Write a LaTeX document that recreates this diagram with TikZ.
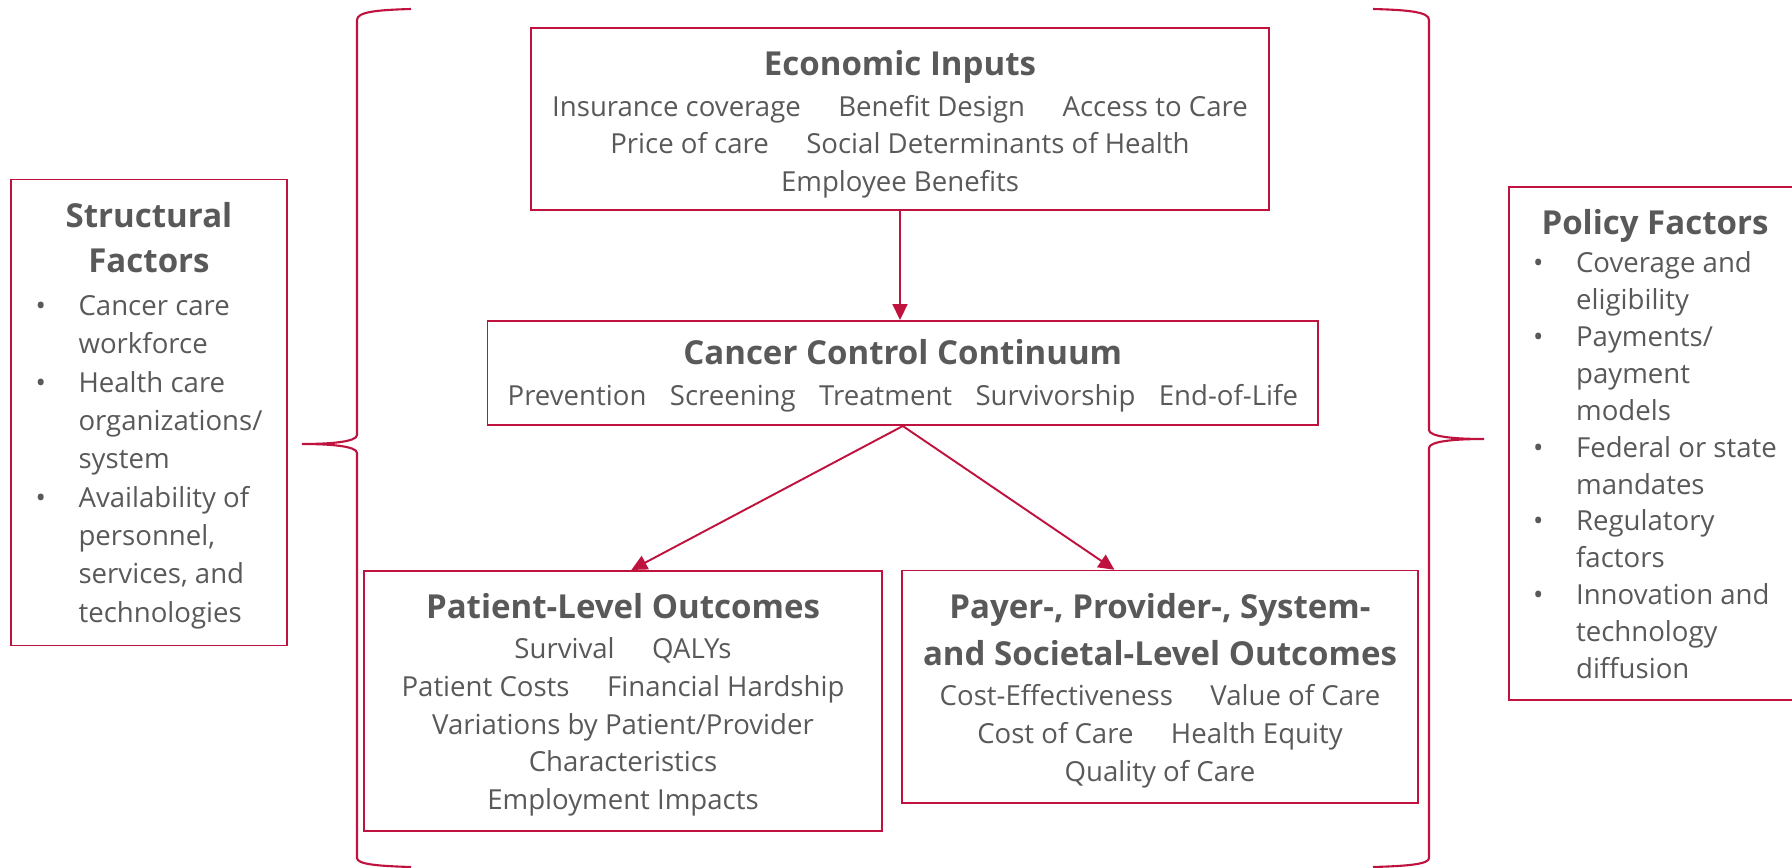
\documentclass[tikz,border=0pt]{standalone}
\usepackage{fontspec}
\setmainfont{Open Sans}
\usetikzlibrary{arrows.meta,calc}
\definecolor{crimson}{RGB}{192,18,62}
\definecolor{txtgray}{RGB}{89,89,89}
\tikzset{>={Triangle[length=9pt,width=8.5pt]}}
\tikzset{
    box/.style={draw=crimson,line width=0.9pt,text=txtgray,align=center,inner sep=0pt,
        font=\fontsize{15.7}{21.5}\selectfont},
    link/.style={->,crimson,line width=1.1pt},
    brace/.style={crimson,line width=1.2pt}
}
\newcommand\boxtitle[2][0pt]{{\fontsize{18.8}{26}\selectfont\bfseries\rule{0pt}{#1}#2}}
\newcommand\itemgap{\hspace{1.36em}}
\newcommand\curlybrace[4]{
    \draw[brace] (#2,9) .. controls (0.35*#2+0.65*#1,10) and (#1,12) .. (#1,20)
        -- (#1,#4-9) .. controls (#1,#4-2) and (0.5*#1+0.5*#3,#4) .. (#3,#4)
        .. controls (0.5*#1+0.5*#3,#4) and (#1,#4+2) .. (#1,#4+9)
        -- (#1,858) .. controls (#1,864) and (0.35*#2+0.65*#1,866) .. (#2,867);
}

\begin{document}
\begin{tikzpicture}[x=0.02cm,y=-0.02cm]
    \useasboundingbox (0,0) rectangle (1792,868);
    \clip (0,0) rectangle (1792,868);

    \node[box,minimum width=14.76cm,minimum height=3.65cm] (econ) at (900,119)
        {\boxtitle[20.5pt]{Economic Inputs}\\[1.6pt]
         Insurance coverage\itemgap Benefit Design\itemgap Access to Care\\
         Price of care\itemgap Social Determinants of Health\\
         Employee Benefits};
    \node[box,minimum width=16.61cm,minimum height=2.09cm] (ccc) at (902.8,373)
        {\boxtitle[17.5pt]{Cancer Control Continuum}\\[1.5pt]
         Prevention\hspace{0.85em}Screening\hspace{0.85em}Treatment\hspace{0.85em}Survivorship\hspace{0.85em}End-of-Life};
    \node[box,minimum width=10.36cm,minimum height=5.21cm] (patient) at (623,701)
        {\boxtitle[18.7pt]{Patient-Level Outcomes}\\[1.2pt]
         Survival\itemgap QALYs\\
         Patient Costs\itemgap Financial Hardship\\
         Variations by Patient/Provider\\
         Characteristics\\
         Employment Impacts};
    \node[box,minimum width=10.33cm,minimum height=4.65cm] (payer) at (1160,686.8)
        {\boxtitle[18.7pt]{Payer-, Provider-, System-}\\[5.3pt]
         \boxtitle{and Societal-Level Outcomes}\\[1.2pt]
         Cost-Effectiveness\itemgap Value of Care\\
         Cost of Care\itemgap Health Equity\\
         Quality of Care};
    \node[box,minimum width=5.52cm,minimum height=9.33cm,
          font=\fontsize{15.7}{21.8}\selectfont] (struct) at (149,412.5)
        {\boxtitle[20.7pt]{Structural}\\[3.7pt]
         \boxtitle{Factors}\\[2.7pt]
         \begin{tabular}[t]{@{}p{0.86cm}@{}l@{}}
         \textbullet & Cancer care\\
                     & workforce\\
         \textbullet & Health care\\
                     & organizations/\\
                     & system\\
         \textbullet & Availability of\\
                     & personnel,\\
                     & services, and\\
                     & technologies
         \end{tabular}};
    \node[box,minimum width=5.84cm,minimum height=10.26cm,
          font=\fontsize{15.7}{21}\selectfont] (policy) at (1655,443.5)
        {\boxtitle[21pt]{Policy Factors}\\[0.9pt]
         \begin{tabular}[t]{@{}p{0.86cm}@{}l@{}}
         \textbullet & Coverage and\\
                     & eligibility\\
         \textbullet & Payments/\\
                     & payment\\
                     & models\\
         \textbullet & Federal or state\\
                     & mandates\\
         \textbullet & Regulatory\\
                     & factors\\
         \textbullet & Innovation and\\
                     & technology\\
                     & diffusion
         \end{tabular}};

    \draw[link] (econ.south) -- (econ.south |- ccc.north);
    \draw[link] (ccc.south) -- ($(patient.north west)!0.516!(patient.north east)$);
    \draw[link] (ccc.south) -- ($(payer.north west)!0.412!(payer.north east)$);

    \curlybrace{357}{411}{302}{444}
    \curlybrace{1429}{1373}{1484}{439}
\end{tikzpicture}
\end{document}
